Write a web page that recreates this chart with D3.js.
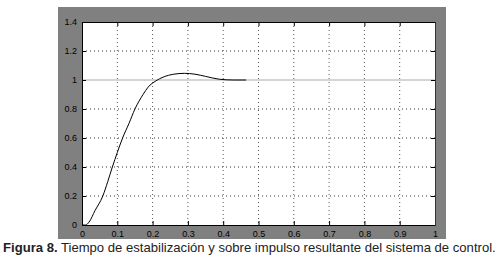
<!DOCTYPE html>
<html>
<head>
<meta charset="utf-8">
<style>
  body { margin: 0; background: #fff; }
  .tick text { font-family: "Liberation Sans", Arial, sans-serif; font-size: 9px; fill: #000; }
  .caption { font-family: "Liberation Sans", Arial, sans-serif; font-size: 13.1px; fill: #222; }
</style>
</head>
<body>
<svg width="498" height="266"></svg>
<script src="https://cdn.jsdelivr.net/npm/d3@7"></script>
<script>
// step response
var tiempo = [0, 0.01, 0.02, 0.037, 0.059, 0.073, 0.086, 0.1, 0.115, 0.133, 0.15, 0.173, 0.187, 0.21, 0.23, 0.26, 0.29, 0.32, 0.35, 0.39, 0.43, 0.465];
var salida = [0, 0, 0.02, 0.1, 0.2, 0.3, 0.4, 0.5, 0.6, 0.7, 0.8, 0.9, 0.95, 0.995, 1.02, 1.04, 1.046, 1.04, 1.025, 1.005, 1.0, 1.0];
var xTicks = [0, 0.1, 0.2, 0.3, 0.4, 0.5, 0.6, 0.7, 0.8, 0.9, 1];
var yTicks = [0, 0.2, 0.4, 0.6, 0.8, 1, 1.2, 1.4];
var referencia = 1;

var svg = d3.select("svg"),
    margin = {top: 22, right: 63, bottom: 41, left: 82},
    width = 498 - margin.left - margin.right,
    height = 266 - margin.top - margin.bottom;

// gray figure panel
svg.append("rect")
    .attr("x", 58).attr("y", 7)
    .attr("width", 388).attr("height", 232)
    .attr("fill", "#808080");

var x = d3.scaleLinear().domain([0, 1]).range([0, width]),
    y = d3.scaleLinear().domain([0, 1.4]).range([height, 0]);

var g = svg.append("g")
    .attr("transform", "translate(" + margin.left + "," + margin.top + ")");

g.append("rect")
    .attr("width", width).attr("height", height)
    .attr("fill", "#fff");

// dotted grid
g.selectAll(".gx")
    .data(xTicks.slice(1, -1))
  .enter().append("line")
    .attr("x1", function(d) { return x(d); })
    .attr("x2", function(d) { return x(d); })
    .attr("y1", 0).attr("y2", height)
    .attr("stroke", "#555").attr("stroke-dasharray", "1,3");

g.selectAll(".gy")
    .data(yTicks.slice(1, -1).filter(function(d) { return d !== referencia; }))
  .enter().append("line")
    .attr("y1", function(d) { return y(d); })
    .attr("y2", function(d) { return y(d); })
    .attr("x1", 0).attr("x2", width)
    .attr("stroke", "#333").attr("stroke-dasharray", "1,3");

// reference level
g.append("line")
    .attr("x1", 0).attr("x2", width)
    .attr("y1", y(referencia)).attr("y2", y(referencia))
    .attr("stroke", "#aaa").attr("stroke-width", 1);

var linea = d3.line()
    .x(function(d, i) { return x(tiempo[i]); })
    .y(function(d) { return y(d); })
    .curve(d3.curveMonotoneX);

g.append("path")
    .datum(salida)
    .attr("fill", "none")
    .attr("stroke", "#000")
    .attr("stroke-width", 1)
    .attr("d", linea);

// axes, ticks inside like matlab
var fmt = function(d) { return d === 0 || d === 1 ? d : d3.format(".1f")(d); };

g.append("g")
    .attr("transform", "translate(0," + height + ")")
    .call(d3.axisBottom(x).tickValues(xTicks).tickSize(-4).tickPadding(6).tickFormat(fmt))
    .call(function(a) { a.select(".domain").attr("stroke", "#000"); });

g.append("g")
    .call(d3.axisLeft(y).tickValues(yTicks).tickSize(-4).tickPadding(5).tickFormat(fmt))
    .call(function(a) { a.select(".domain").attr("stroke", "#000"); });

g.append("g")
    .call(d3.axisTop(x).tickValues(xTicks).tickSize(-4).tickFormat(""))
    .call(function(a) { a.select(".domain").attr("stroke", "#000"); });

g.append("g")
    .attr("transform", "translate(" + width + ",0)")
    .call(d3.axisRight(y).tickValues(yTicks).tickSize(-4).tickFormat(""))
    .call(function(a) { a.select(".domain").attr("stroke", "#333"); });

var cap = svg.append("text")
    .attr("class", "caption")
    .attr("x", 3).attr("y", 252);
cap.append("tspan").attr("font-weight", "bold").text("Figura 8.");
cap.append("tspan").text(" Tiempo de estabilización y sobre impulso resultante del sistema de control.");
</script>
</body>
</html>
